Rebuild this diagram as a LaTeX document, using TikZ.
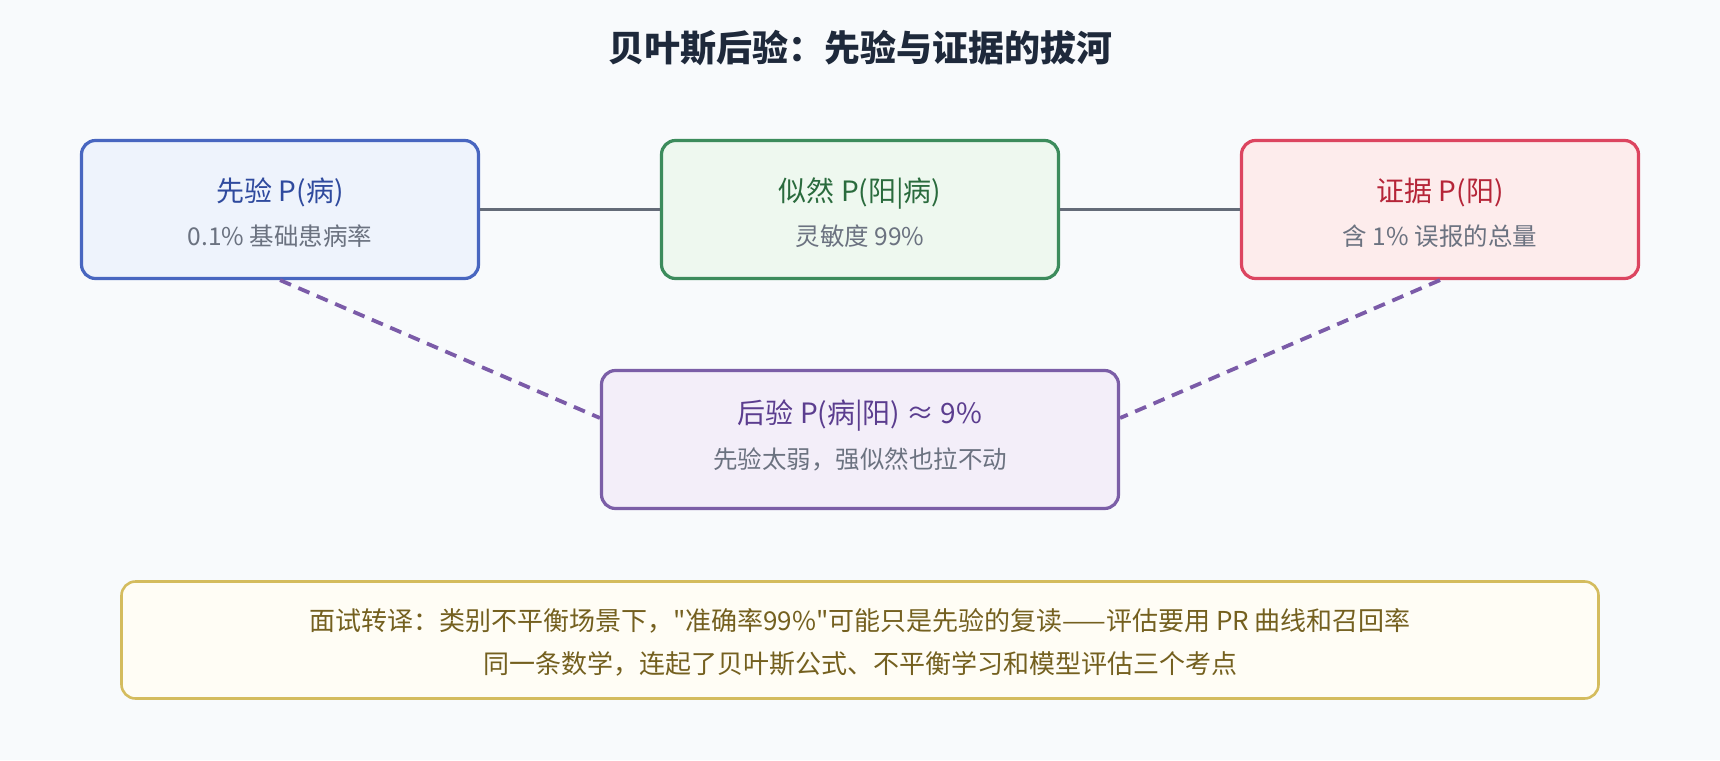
\documentclass[tikz,border=0pt]{standalone}
\usepackage{fontspec}
\setmainfont{Noto Sans CJK SC}
\newfontfamily\plainq{Noto Sans CJK SC}
\usetikzlibrary{calc}
\definecolor{bgc}{HTML}{F8FAFC}
\definecolor{titlec}{HTML}{1E293B}
\definecolor{subc}{HTML}{6B7280}
\definecolor{linec}{HTML}{646B78}
\definecolor{dashc}{HTML}{7B5BA8}
\definecolor{bluebd}{HTML}{4866C0}
\definecolor{bluefl}{HTML}{EEF3FC}
\definecolor{bluetx}{HTML}{2F4A9E}
\definecolor{greenbd}{HTML}{3C8C5C}
\definecolor{greenfl}{HTML}{EEF8EF}
\definecolor{greentx}{HTML}{2A6B3D}
\definecolor{redbd}{HTML}{DC4560}
\definecolor{redfl}{HTML}{FDECEC}
\definecolor{redtx}{HTML}{B52538}
\definecolor{purbd}{HTML}{7B5EA7}
\definecolor{purfl}{HTML}{F3EEF9}
\definecolor{purtx}{HTML}{5B3D8F}
\definecolor{yelbd}{HTML}{D4BC5E}
\definecolor{yelfl}{HTML}{FFFDF5}
\definecolor{yeltx}{HTML}{74601F}
\tikzset{
  box/.style={draw, rounded corners=14pt, line width=3.2pt, inner sep=0pt},
  topbox/.style={box, minimum width=397pt, minimum height=138pt},
  headtxt/.style={anchor=base, inner sep=0pt, font=\fontsize{28}{32}\selectfont},
  subtxt/.style={anchor=base, inner sep=0pt, text=subc, font=\fontsize{24.5}{28}\selectfont},
  notetxt/.style={anchor=base, inner sep=0pt, text=yeltx, font=\fontsize{26}{30}\selectfont},
  solidlink/.style={draw=linec, line width=3.5pt},
  dashlink/.style={draw=dashc, line width=3.8pt, dash pattern=on 12pt off 8pt}
}
\begin{document}
\begin{tikzpicture}[x=1pt,y=-1pt]
\fill[bgc] (0,0) rectangle (1720,760);
\useasboundingbox (0,0) rectangle (1720,760);

\node[anchor=base, inner sep=0pt, text=titlec, font=\fontsize{36}{40}\selectfont\bfseries] (title) at (860,61) {贝叶斯后验：先验与证据的拔河};

\node[topbox, draw=bluebd, fill=bluefl] (prior) at (280,209.5) {};
\node[topbox, draw=greenbd, fill=greenfl] (lik) at (860,209.5) {};
\node[topbox, draw=redbd, fill=redfl] (evid) at (1440,209.5) {};
\node[box, draw=purbd, fill=purfl, minimum width=517pt, minimum height=138pt] (post) at (860,439.5) {};
\node[box, draw=yelbd, fill=yelfl, line width=2.6pt, minimum width=1477pt, minimum height=117pt] (note) at (860,640) {};

\node[headtxt, text=bluetx] (priorT) at (280,201) {先验 P(病)};
\node[subtxt] (priorS) at (280,245) {0.1\% 基础患病率};
\node[headtxt, text=greentx] (likT) at (860,201) {似然 P(阳|病)};
\node[subtxt] (likS) at (860,245) {灵敏度 99\%};
\node[headtxt, text=redtx] (evidT) at (1440,201) {证据 P(阳)};
\node[subtxt] (evidS) at (1440,245) {含 1\% 误报的总量};
\node[headtxt, text=purtx] (postT) at (860,423) {后验 P(病|阳) ≈ 9\%};
\node[subtxt] (postS) at (860,468) {先验太弱，强似然也拉不动};
\node[notetxt] (noteA) at (860,630) {面试转译：类别不平衡场景下，{\plainq "}准确率99\%{\plainq "}可能只是先验的复读——评估要用 PR 曲线和召回率};
\node[notetxt] (noteB) at (860,673) {同一条数学，连起了贝叶斯公式、不平衡学习和模型评估三个考点};

\coordinate (postL) at ($(post.west)+(0,-21.5)$);
\coordinate (postR) at ($(post.east)+(0,-21.5)$);
\draw[solidlink] (prior.east) -- (lik.west);
\draw[solidlink] (lik.east) -- (evid.west);
\draw[dashlink] (prior.south) -- (postL);
\draw[dashlink] (evid.south) -- (postR);
\end{tikzpicture}
\end{document}
